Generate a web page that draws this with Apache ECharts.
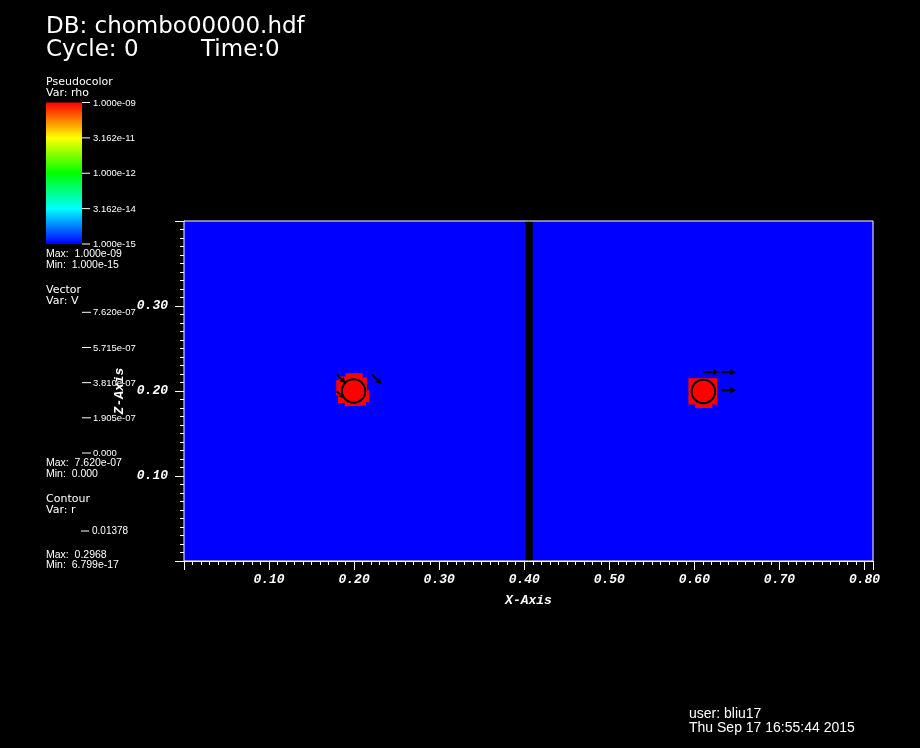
<!DOCTYPE html>
<html><head><meta charset="utf-8">
<script src="https://cdn.jsdelivr.net/npm/echarts@6/dist/echarts.min.js"></script>
<style>html,body{margin:0;padding:0;background:#000}#c{width:920px;height:748px}</style>
</head><body><div id="c"></div>
<script>
// ---- data ----
const domainX = [0, 0.81];
const domainY = [0, 0.40];
const barX = [0.401, 0.410];
const blobLeft = [[0.190,0.221],[0.210,0.221],[0.210,0.216],[0.215,0.216],[0.215,0.201],[0.218,0.201],[0.218,0.187],[0.214,0.187],[0.214,0.183],[0.189,0.182],[0.189,0.186],[0.181,0.186],[0.181,0.195],[0.179,0.195],[0.179,0.213],[0.183,0.213],[0.183,0.217],[0.190,0.217]];
const blobRight = [[0.593,0.215],[0.627,0.215],[0.627,0.184],[0.621,0.184],[0.621,0.180],[0.601,0.180],[0.601,0.184],[0.593,0.184]];
const contourCenters = [[0.1994,0.2000],[0.6106,0.1995]];
const contourRadius = 0.01378;
const arrows = [
  [0.1795,0.2196,0.1902,0.2090],
  [0.2208,0.2196,0.2325,0.2079],
  [0.1795,0.1996,0.1891,0.1914],
  [0.6106,0.2220,0.6294,0.2220],
  [0.6317,0.2220,0.6494,0.2220],
  [0.6317,0.2008,0.6494,0.2008]
];
const pcTicks = ['1.000e-09','3.162e-11','1.000e-12','3.162e-14','1.000e-15'];
const vecTicks = ['7.620e-07','5.715e-07','3.810e-07','1.905e-07','0.000'];
const contourTicks = ['0.01378'];
const rainbow = ['#ff0000','#ffff00','#00ff00','#00ffff','#0000ff'];

// ---- chart ----
const chart = echarts.init(document.getElementById('c'));
const axisFont = {fontFamily:'Liberation Mono', fontWeight:'bold', fontStyle:'italic', fontSize:13, color:'#fff'};
function txt(x, y, s, size, fam) {
  return {type:'text', x:x, y:y, style:{text:s, fill:'#fff', font: size+'px "'+(fam||'DejaVu Sans')+'"', textVerticalAlign:'middle', textAlign:'left'}};
}
const LS = 'Liberation Sans';
const g = [];
g.push(txt(46, 27, 'DB: chombo00000.hdf', 23));
g.push(txt(46, 50, 'Cycle: 0', 23));
g.push(txt(201, 50, 'Time:0', 23));
// pseudocolor legend
g.push(txt(46, 82, 'Pseudocolor', 11));
g.push(txt(46, 93, 'Var: rho', 11));
const barTop = 102.5, barBot = 244;
g.push({type:'rect', shape:{x:46, y:barTop, width:36, height:barBot-barTop},
  style:{fill:new echarts.graphic.LinearGradient(0,0,0,1, rainbow.map((c,i)=>({offset:i/(rainbow.length-1), color:c})))}});
pcTicks.forEach((t,i)=>{
  const y = barTop + i*(barBot-barTop)/(pcTicks.length-1);
  g.push({type:'line', shape:{x1:82,y1:y,x2:90,y2:y}, style:{stroke:'#fff', lineWidth:1}});
  g.push(txt(93, y+0.5, t, 9.5, LS));
});
g.push(txt(46, 254, 'Max:  ' + pcTicks[0], 10.5, LS));
g.push(txt(46, 265, 'Min:  ' + pcTicks[pcTicks.length-1], 10.5, LS));
// vector legend
g.push(txt(46, 290.5, 'Vector', 11));
g.push(txt(46, 301, 'Var: V', 11));
const vTop = 312.3, vBot = 453;
vecTicks.forEach((t,i)=>{
  const y = vTop + i*(vBot-vTop)/(vecTicks.length-1);
  g.push({type:'line', shape:{x1:82,y1:y,x2:91,y2:y}, style:{stroke:'#fff', lineWidth:1}});
  g.push(txt(93, y+0.5, t, 9.5, LS));
});
g.push(txt(46, 463.5, 'Max:  ' + vecTicks[0], 10.5, LS));
g.push(txt(46, 474, 'Min:  ' + vecTicks[vecTicks.length-1], 10.5, LS));
// contour legend
g.push(txt(46, 499, 'Contour', 11));
g.push(txt(46, 510, 'Var: r', 11));
contourTicks.forEach((t,i)=>{
  const y = 531;
  g.push({type:'line', shape:{x1:81,y1:y,x2:89,y2:y}, style:{stroke:'#fff', lineWidth:1}});
  g.push(txt(92, y+0.5, t, 10, LS));
});
g.push(txt(46, 555, 'Max:  0.2968', 10.5, LS));
g.push(txt(46, 565.5, 'Min:  6.799e-17', 10.5, LS));
// footer
g.push(txt(689, 714, 'user: bliu17', 14, LS));
g.push(txt(689, 728, 'Thu Sep 17 16:55:44 2015', 14, LS));

function rectItem(x0,x1,y0,y1,color){
  return function(params, api){
    const p0 = api.coord([x0, y1]);
    const p1 = api.coord([x1, y0]);
    return {type:'rect', shape:{x:p0[0], y:p0[1], width:p1[0]-p0[0], height:p1[1]-p0[1]}, style:{fill:color}};
  };
}

const option = {
  backgroundColor:'#000',
  animation:false,
  grid:{left:184, right:47, top:221, bottom:187, show:true, borderColor:'#fff', borderWidth:1, backgroundColor:'transparent', z:10},
  xAxis:{type:'value', min:domainX[0], max:domainX[1], interval:0.1,
    name:'X-Axis', nameLocation:'middle', nameGap:33, nameTextStyle:axisFont,
    axisLine:{show:true, lineStyle:{color:'#fff'}}, splitLine:{show:false},
    axisTick:{show:true, length:9, lineStyle:{color:'#fff'}},
    minorTick:{show:true, splitNumber:10, length:4, lineStyle:{color:'#fff'}},
    axisLabel:Object.assign({margin:12, showMinLabel:false, showMaxLabel:false, formatter:v=>v.toFixed(2)}, axisFont)},
  yAxis:{type:'value', min:domainY[0], max:domainY[1], interval:0.1,
    name:'Z-Axis', nameLocation:'middle', nameGap:57, nameRotate:90, nameTextStyle:axisFont,
    axisLine:{show:true, lineStyle:{color:'#fff'}}, splitLine:{show:false},
    axisTick:{show:true, length:9, lineStyle:{color:'#fff'}},
    minorTick:{show:true, splitNumber:10, length:4, lineStyle:{color:'#fff'}},
    axisLabel:Object.assign({margin:16, showMinLabel:false, showMaxLabel:false, formatter:v=>v.toFixed(2)}, axisFont)},
  graphic:g,
  series:[
    {type:'custom', data:[[domainX[0],domainY[0]]], renderItem:rectItem(domainX[0],domainX[1],domainY[0],domainY[1],'#0000ff'), silent:true, z:1},
    {type:'custom', data:[[barX[0],0]], renderItem:rectItem(barX[0],barX[1],domainY[0],domainY[1],'#000000'), silent:true, z:2},
    {type:'custom', data:[blobLeft, blobRight].map((b,i)=>[i]), silent:true, z:3,
      renderItem:function(params, api){
        const b = [blobLeft, blobRight][params.dataIndex];
        return {type:'polygon', shape:{points:b.map(p=>api.coord(p))}, style:{fill:'#ff0000'}};
      }},
    {type:'custom', data:contourCenters, silent:true, z:4,
      renderItem:function(params, api){
        const c = api.coord([api.value(0), api.value(1)]);
        const r = api.size([contourRadius, contourRadius])[0];
        return {type:'circle', shape:{cx:c[0], cy:c[1], r:r}, style:{fill:'none', stroke:'#000', lineWidth:2}};
      }},
    {type:'custom', data:arrows, silent:true, z:5,
      renderItem:function(params, api){
        const a = api.coord([api.value(0), api.value(1)]);
        const b = api.coord([api.value(2), api.value(3)]);
        const ang = Math.atan2(b[1]-a[1], b[0]-a[0]);
        const h = 6, w = 3;
        const bx = b[0]-h*Math.cos(ang), by = b[1]-h*Math.sin(ang);
        const px = -Math.sin(ang)*w, py = Math.cos(ang)*w;
        return {type:'group', children:[
          {type:'line', shape:{x1:a[0],y1:a[1],x2:bx,y2:by}, style:{stroke:'#000', lineWidth:2}},
          {type:'polygon', shape:{points:[[b[0],b[1]],[bx+px,by+py],[bx-px,by-py]]}, style:{fill:'#000'}}
        ]};
      }}
  ]
};
chart.setOption(option);
</script></body></html>
